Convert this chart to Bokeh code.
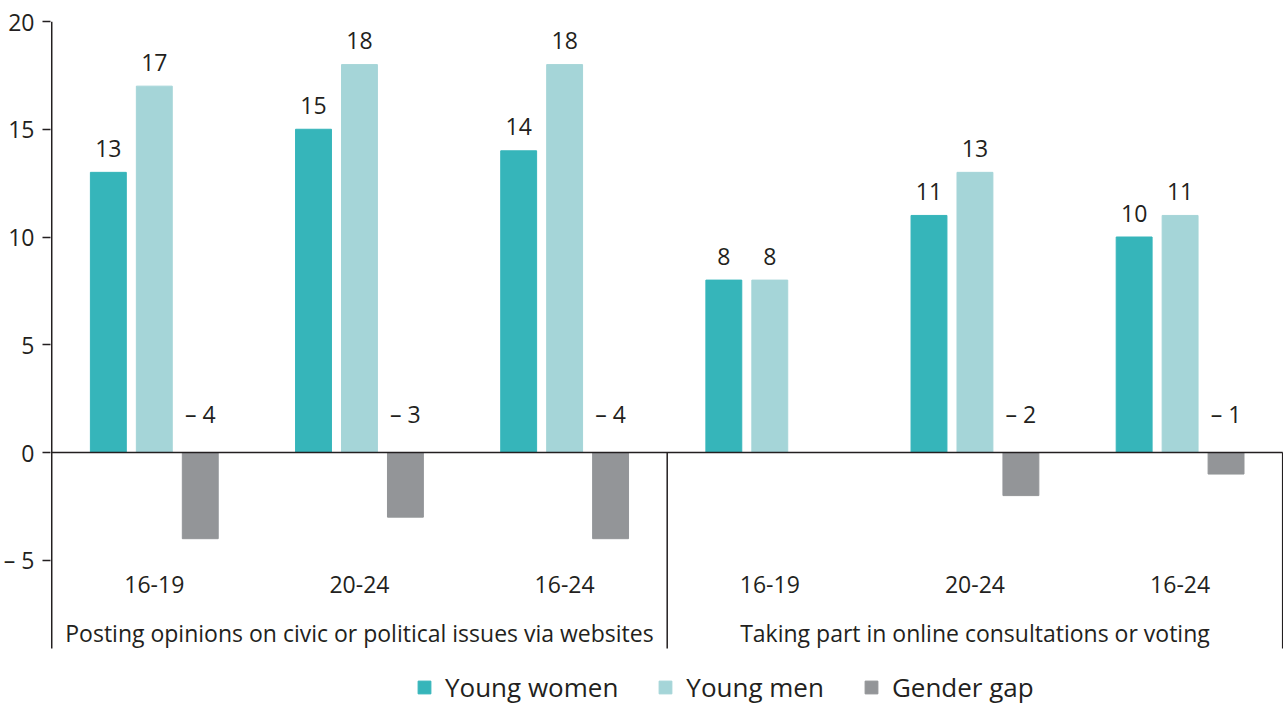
from bokeh.plotting import figure
from bokeh.models import ColumnDataSource, Legend, LegendItem, FixedTicker
from bokeh.core.properties import value
from bokeh.embed import file_html
from bokeh.resources import INLINE

# ---- data ----
groups = ["16-19", "20-24", "16-24", "16-19", "20-24", "16-24"]
topics = ["Posting opinions on civic or political issues via websites",
          "Taking part in online consultations or voting"]
young_women = [13, 15, 14, 8, 11, 10]
young_men = [17, 18, 18, 8, 13, 11]
gender_gap = [-4, -3, -4, 0, -2, -1]
y_ticks = [-5, 0, 5, 10, 15, 20]

C_W = "#36b5ba"
C_M = "#a5d5d8"
C_G = "#939598"
TXT = "#231f20"
FONT = "Open Sans"

FH = 684
PX_PER_UNIT = 21.55
Y1 = 20
Y0 = Y1 - FH / PX_PER_UNIT      # frame bottom (legend lives inside the frame)
YB = -9.1                       # bottom of the drawn axis / separators
X0 = -0.006
OFF, BW = 0.224, 0.175

p = figure(frame_width=1233, frame_height=FH, x_range=(X0, 6.004), y_range=(Y0, Y1),
           output_backend="svg", toolbar_location=None,
           x_axis_location=None, min_border_left=44, min_border_right=0,
           min_border_top=21, min_border_bottom=0)
p.outline_line_color = None
p.grid.visible = False

n = len(groups)
xc = [i + 0.5 for i in range(n)]
src = ColumnDataSource(dict(
    xw=[x - OFF for x in xc], xm=xc, xg=[x + OFF for x in xc],
    w=young_women, m=young_men, g=gender_gap,
    wl=[str(v) for v in young_women], ml=[str(v) for v in young_men],
))
rw = p.vbar(x="xw", top="w", bottom=0, width=BW, color=C_W, source=src)
rm = p.vbar(x="xm", top="m", bottom=0, width=BW, color=C_M, source=src)
rg = p.vbar(x="xg", top="g", bottom=0, width=BW, color=C_G, source=src)

lab_kw = dict(text_font=value(FONT), text_font_size="23px", text_color=TXT,
              text_align="center", text_baseline="alphabetic")
p.text(x="xw", y="w", text="wl", y_offset=-24, source=src, **lab_kw)
p.text(x="xm", y="m", text="ml", y_offset=-24, source=src, **lab_kw)

gx = [x + OFF for x, v in zip(xc, gender_gap) if v != 0]
gl = ["\u2013 " + str(abs(v)) for v in gender_gap if v != 0]
p.text(x=gx, y=[0] * len(gx), text=gl, y_offset=-39, **lab_kw)

# category labels
p.text(x=xc, y=[YB] * n, text=groups, y_offset=-64, **lab_kw)
p.text(x=[1.5, 4.5], y=[YB, YB], text=topics, y_offset=-16, **lab_kw)

# zero line, y axis line and separators
p.segment(x0=[0], y0=[0], x1=[6], y1=[0], line_color=TXT, line_width=1.5)
p.segment(x0=[0, 3, 6], y0=[YB, YB, YB], x1=[0, 3, 6], y1=[Y1, 0, 0],
          line_color=TXT, line_width=1.5)

ax = p.yaxis[0]
ax.ticker = FixedTicker(ticks=y_ticks)
ax.major_label_overrides = {-5: "\u2013 5"}
ax.minor_tick_line_color = None
ax.major_tick_in = 0
ax.major_tick_out = 8
ax.major_label_standoff = 8
ax.axis_line_color = None
ax.major_tick_line_color = TXT
ax.major_tick_line_width = 1.5
ax.major_label_text_font = FONT
ax.major_label_text_font_size = "23px"
ax.major_label_text_color = TXT

legend = Legend(items=[LegendItem(label="Young women", renderers=[rw]),
                       LegendItem(label="Young men", renderers=[rm]),
                       LegendItem(label="Gender gap", renderers=[rg])],
                orientation="horizontal", location=(366, 0),
                glyph_width=16, glyph_height=16, label_standoff=13, spacing=39,
                padding=0, margin=0, border_line_color=None,
                label_text_font=FONT, label_text_font_size="26px",
                label_text_color=TXT, background_fill_alpha=0)
p.add_layout(legend, "center")

open("out.html", "w").write(file_html(p, INLINE))
